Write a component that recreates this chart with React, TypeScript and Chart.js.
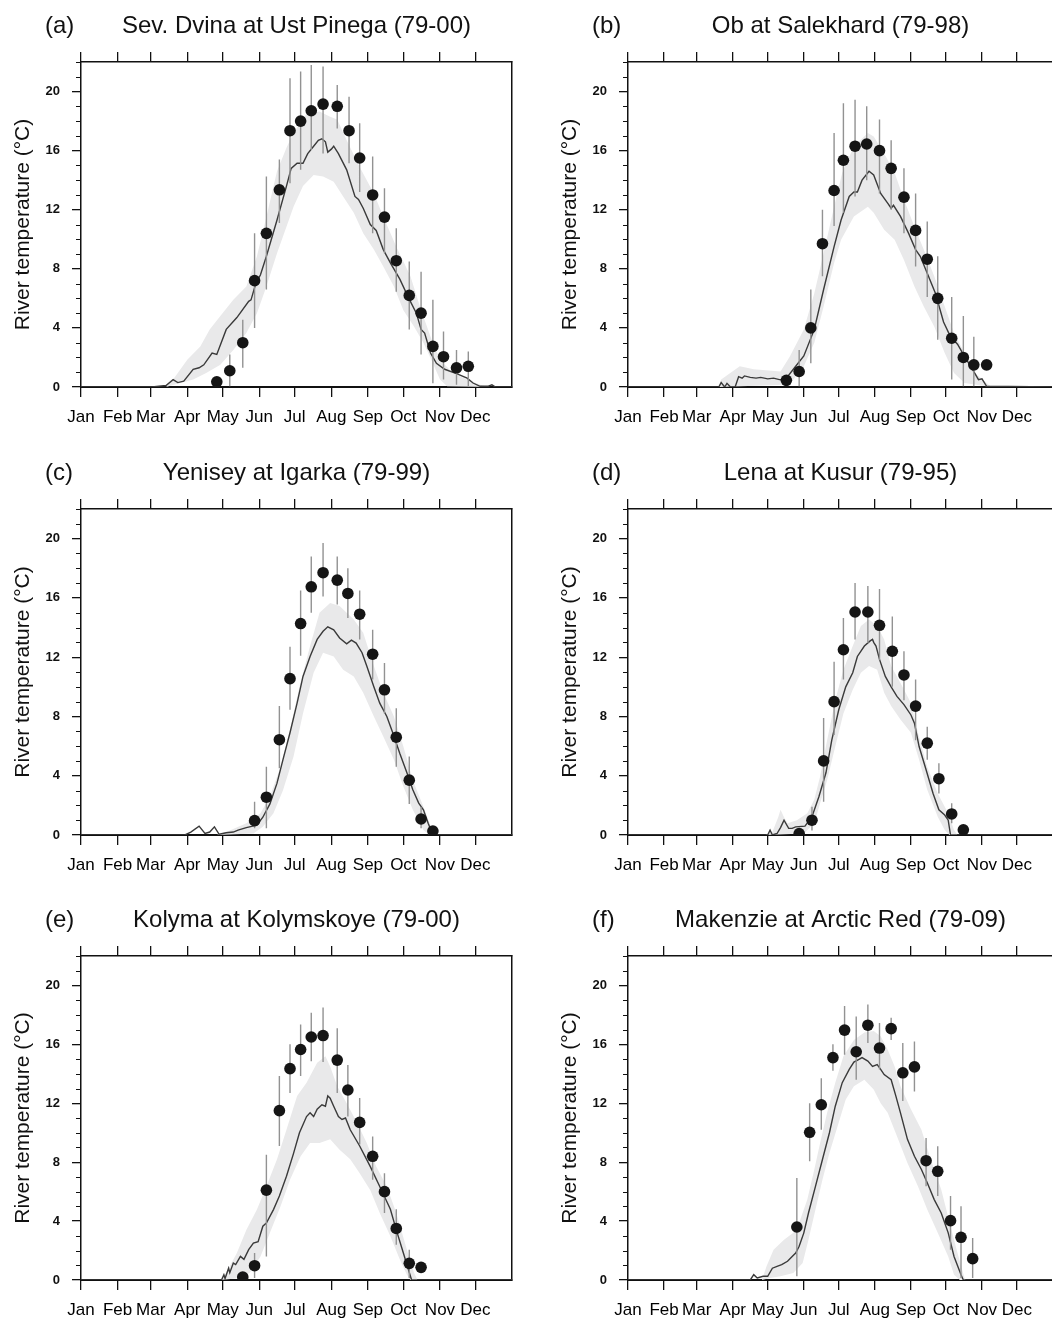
import React, { useEffect, useRef } from "react";
import { Chart, registerables } from "chart.js";

Chart.register(...registerables);

const FONT = '"Liberation Sans", Arial, Helvetica, sans-serif';

// ---------- axis values ----------
const MONTH_LABELS = ["Jan", "Feb", "Mar", "Apr", "May", "Jun", "Jul", "Aug", "Sep", "Oct", "Nov", "Dec"];
const MONTH_STARTS = [0, 31, 59, 90, 120, 151, 181, 212, 243, 273, 304, 334];
const Y_TICKS = [0, 4, 8, 12, 16, 20];
const Y_MINOR = [1, 2, 3, 5, 6, 7, 9, 10, 11, 13, 14, 15, 17, 18, 19, 21, 22];
const Y_TITLE = "River temperature (°C)";

// ---------- (a) Sev. Dvina at Ust Pinega ----------
const A_OBS_DAY = [115, 126, 137, 147, 157, 168, 177, 186, 195, 205, 217, 227, 236, 247, 257, 267, 278, 288, 298, 307, 318, 328];
const A_OBS_MEAN = [0.35, 1.1, 3.0, 7.2, 10.4, 13.35, 17.35, 18.0, 18.7, 19.15, 19.0, 17.35, 15.5, 13.0, 11.5, 8.55, 6.2, 5.0, 2.75, 2.05, 1.3, 1.4];
const A_OBS_LOW = [0.35, 0.05, 1.3, 4.0, 6.6, 11.1, 13.8, 14.7, 16.05, 15.8, 17.5, 15.15, 13.2, 10.4, 9.05, 6.45, 3.9, 2.2, 0.25, 0.5, 0.15, 0.05];
const A_OBS_HIGH = [0.35, 2.2, 4.55, 10.4, 14.25, 15.4, 20.9, 21.35, 21.8, 21.7, 20.45, 19.65, 17.85, 15.6, 13.45, 10.75, 8.5, 7.8, 5.9, 3.75, 2.5, 2.4];
const A_MODEL = [[0, 0], [60, 0], [72, 0.1], [78, 0.5], [82, 0.3], [87, 0.4], [95, 1.2], [100, 1.3], [104, 1.5], [111, 2.3], [115, 2.2], [123, 3.9], [132, 4.7], [142, 5.8], [144, 5.9], [148, 7.0], [152, 7.6], [157, 8.85], [166, 11.3], [174, 13.6], [178, 14.8], [183, 15.15], [188, 15.15], [192, 15.8], [197, 16.3], [201, 16.7], [204, 16.8], [207, 16.6], [209, 15.9], [212, 16.1], [214, 16.3], [218, 15.8], [225, 14.7], [232, 12.9], [235, 12.7], [239, 12.1], [245, 11.0], [250, 10.6], [256, 9.3], [262, 8.4], [270, 7.3], [277, 6.1], [284, 5.0], [288, 3.9], [291, 3.65], [296, 2.3], [301, 1.6], [308, 1.2], [318, 0.9], [327, 0.6], [332, 0.27], [338, 0.05], [345, 0.05], [348, 0.15], [351, 0], [365, 0]];
const A_BAND_UP = [[72, 0], [78, 0.5], [90, 1.85], [101, 2.75], [109, 3.9], [118, 4.8], [129, 5.9], [140, 6.8], [149, 8.85], [157, 11.5], [166, 14.6], [174, 16.2], [180, 17.2], [191, 18.5], [202, 18.65], [211, 18.3], [217, 18.1], [225, 16.7], [236, 14.9], [248, 13.1], [256, 11.55], [267, 9.5], [279, 7.5], [287, 5.45], [296, 3.4], [304, 1.85], [315, 0.95], [327, 0.5], [338, 0.16], [345, 0]];
const A_BAND_LOW = [[72, 0], [84, 0.27], [95, 0.5], [106, 0.95], [118, 1.5], [129, 2.5], [140, 3.65], [149, 5.0], [157, 6.8], [166, 9.05], [174, 10.85], [180, 12.2], [188, 13.6], [197, 14.35], [205, 14.25], [214, 13.9], [222, 12.9], [231, 11.8], [239, 10.4], [248, 9.3], [256, 8.15], [265, 6.8], [273, 5.2], [282, 4.1], [290, 3.0], [298, 1.6], [304, 0.5], [310, 0.05], [345, 0]];

// ---------- (b) Ob at Salekhard ----------
const B_OBS_DAY = [136, 147, 157, 167, 177, 185, 195, 205, 216, 226, 237, 247, 257, 266, 278, 288, 297, 308];
const B_OBS_MEAN = [0.45, 1.05, 4.0, 9.7, 13.3, 15.35, 16.3, 16.45, 16.0, 14.8, 12.85, 10.6, 8.65, 6.0, 3.3, 2.0, 1.5, 1.5];
const B_OBS_LOW = [0.45, 0.05, 1.6, 7.5, 10.9, 11.8, 12.9, 14.0, 13.1, 12.0, 10.4, 8.15, 6.1, 3.2, 0.5, 0.05, 0.05, 1.5];
const B_OBS_HIGH = [0.45, 2.5, 6.6, 12.0, 17.2, 19.2, 19.45, 19.0, 18.1, 16.7, 14.8, 13.1, 11.2, 8.85, 6.1, 4.8, 3.4, 1.5];
const B_MODEL = [[0, 0], [78, 0], [80, 0.3], [83, 0], [85, 0.25], [88, 0], [92, 0], [95, 0.7], [98, 0.6], [100, 0.75], [105, 0.65], [110, 0.6], [114, 0.65], [120, 0.55], [125, 0.6], [130, 0.5], [135, 0.5], [142, 1.2], [151, 2.1], [160, 3.9], [168, 6.6], [177, 9.5], [183, 11.3], [190, 12.9], [194, 13.2], [197, 13.2], [201, 14.0], [207, 14.6], [211, 14.35], [217, 13.1], [223, 12.45], [226, 12.1], [228, 12.3], [234, 11.55], [241, 10.4], [247, 9.3], [251, 8.85], [257, 7.7], [264, 6.35], [271, 4.4], [277, 3.4], [283, 2.9], [289, 2.07], [296, 1.17], [301, 0.5], [304, 0.55], [308, 0.05], [365, 0]];
const B_BAND_UP = [[78, 0], [80, 0.5], [96, 1.4], [108, 1.2], [131, 1.05], [139, 2.07], [151, 3.9], [160, 6.35], [168, 9.05], [177, 12.2], [184, 14.5], [194, 16.3], [206, 17.2], [211, 16.95], [220, 15.8], [229, 14.5], [237, 12.7], [246, 10.85], [254, 9.3], [263, 7.5], [272, 5.45], [280, 3.65], [289, 2.3], [298, 0.95], [308, 0.27], [312, 0]];
const B_BAND_LOW = [[78, 0], [134, 0.15], [142, 0.5], [151, 1.4], [160, 3.0], [168, 5.45], [177, 8.4], [183, 9.97], [194, 11.55], [206, 12.2], [211, 11.8], [220, 10.65], [229, 9.97], [237, 8.6], [246, 6.8], [254, 5.45], [263, 4.1], [272, 2.3], [280, 0.95], [289, 0.27], [312, 0]];

// ---------- (c) Yenisey at Igarka ----------
const C_OBS_DAY = [147, 157, 168, 177, 186, 195, 205, 217, 226, 236, 247, 257, 267, 278, 288, 298];
const C_OBS_MEAN = [0.97, 2.55, 6.43, 10.55, 14.27, 16.75, 17.7, 17.2, 16.3, 14.9, 12.2, 9.8, 6.6, 3.7, 1.08, 0.27];
const C_OBS_LOW = [0.45, 0.45, 4.5, 8.45, 12.1, 15.0, 16.1, 15.55, 14.65, 13.2, 10.5, 8.2, 4.6, 2.1, 0.45, 0.27];
const C_OBS_HIGH = [2.25, 4.6, 8.7, 12.7, 16.5, 18.8, 19.7, 18.8, 18.0, 16.5, 13.85, 11.6, 8.55, 5.3, 1.9, 0.27];
const C_MODEL = [[0, 0], [88, 0], [93, 0.2], [100, 0.6], [105, 0.1], [109, 0.2], [113, 0.55], [117, 0.05], [123, 0.15], [129, 0.2], [133, 0.33], [140, 0.5], [149, 0.66], [154, 1.2], [160, 2.1], [166, 3.5], [171, 5.07], [177, 6.9], [183, 8.9], [188, 10.7], [194, 12.05], [200, 13.2], [205, 13.75], [209, 14.05], [214, 13.85], [219, 13.3], [225, 12.9], [229, 13.15], [233, 12.95], [238, 12.3], [242, 11.4], [248, 10.0], [253, 8.9], [259, 8.0], [264, 6.9], [270, 5.5], [276, 4.2], [281, 3.05], [286, 2.15], [290, 1.7], [294, 0.8], [298, 0], [365, 0]];
const C_BAND_UP = [[115, 0], [126, 0.3], [140, 0.8], [152, 1.47], [160, 2.6], [169, 4.6], [177, 7.1], [185, 10.0], [194, 12.75], [202, 15.0], [211, 15.65], [219, 15.45], [231, 14.55], [239, 13.65], [248, 11.4], [256, 9.6], [265, 8.0], [273, 5.97], [281, 3.7], [290, 1.9], [298, 0.2], [301, 0]];
const C_BAND_LOW = [[115, 0], [146, 0.1], [154, 0.55], [163, 1.47], [171, 3.0], [180, 5.3], [188, 8.2], [197, 10.95], [205, 12.3], [214, 12.05], [222, 11.15], [231, 10.7], [239, 9.6], [248, 8.0], [256, 6.65], [265, 5.07], [273, 3.27], [281, 1.7], [290, 0.33], [295, 0], [301, 0]];

// ---------- (d) Lena at Kusur ----------
const D_OBS_DAY = [147, 158, 168, 177, 185, 195, 206, 216, 227, 237, 247, 257, 267, 278, 288];
const D_OBS_MEAN = [0.1, 1.0, 5.0, 9.0, 12.5, 15.05, 15.05, 14.15, 12.4, 10.8, 8.7, 6.2, 3.8, 1.42, 0.35];
const D_OBS_LOW = [0.0, 0.3, 2.25, 6.75, 10.5, 13.2, 12.95, 11.8, 10.0, 9.1, 6.4, 5.07, 2.8, 0.8, 0.35];
const D_OBS_HIGH = [0.3, 1.9, 7.9, 11.7, 14.65, 17.0, 16.8, 16.6, 14.75, 12.4, 10.5, 7.3, 4.85, 2.15, 0.35];
const D_MODEL = [[0, 0], [120, 0], [122, 0.33], [124, 0], [128, 0.1], [131, 0.5], [134, 1.0], [138, 0.45], [141, 0.45], [144, 0.55], [152, 0.6], [158, 1.24], [164, 2.6], [170, 4.2], [175, 6.4], [181, 8.45], [187, 10.0], [193, 10.95], [197, 12.05], [203, 12.75], [208, 13.1], [210, 13.2], [211, 13.0], [213, 12.75], [216, 11.85], [221, 10.7], [226, 10.0], [231, 9.35], [237, 8.8], [243, 8.1], [246, 7.55], [250, 5.97], [256, 4.4], [262, 2.8], [267, 1.7], [272, 1.35], [275, 1.0], [277, 0], [365, 0]];
const D_BAND_UP = [[118, 0], [124, 0.2], [129, 1.2], [131, 1.7], [134, 1.2], [137, 0.8], [145, 1.0], [154, 1.47], [160, 2.4], [165, 3.95], [171, 6.4], [178, 9.1], [185, 11.15], [193, 12.75], [200, 14.1], [207, 14.55], [214, 14.1], [220, 13.2], [226, 11.4], [234, 10.25], [243, 8.9], [249, 6.9], [257, 4.6], [266, 2.8], [275, 1.47], [280, 0.33], [283, 0]];
const D_BAND_LOW = [[118, 0], [151, 0.1], [160, 0.8], [165, 2.15], [171, 3.7], [178, 5.97], [185, 8.2], [193, 9.8], [200, 10.95], [207, 11.4], [214, 11.15], [220, 9.6], [226, 8.7], [234, 7.8], [243, 6.9], [250, 5.07], [257, 3.05], [266, 1.24], [272, 0.33], [276, 0], [283, 0]];

// ---------- (e) Kolyma at Kolymskoye ----------
const E_OBS_DAY = [137, 147, 157, 168, 177, 186, 195, 205, 217, 226, 236, 247, 257, 267, 278, 288];
const E_OBS_MEAN = [0.2, 0.97, 6.1, 11.5, 14.35, 15.65, 16.5, 16.6, 14.93, 12.9, 10.7, 8.4, 6.0, 3.5, 1.13, 0.86];
const E_OBS_LOW = [0.2, 0.14, 1.6, 9.1, 12.7, 13.85, 14.85, 14.8, 12.7, 11.1, 9.2, 6.8, 4.55, 2.4, 0.14, 0.86];
const E_OBS_HIGH = [0.2, 1.83, 8.5, 13.85, 16.0, 17.35, 18.15, 18.5, 17.1, 14.6, 12.35, 9.75, 7.25, 4.8, 2.06, 0.86];
const E_MODEL = [[0, 0], [119, 0], [121, 0.36], [122, 0.1], [125, 0.8], [126, 0.5], [129, 1.15], [131, 1.05], [135, 1.6], [138, 1.4], [142, 2.06], [146, 2.5], [150, 2.6], [154, 3.65], [157, 3.87], [163, 4.78], [168, 5.7], [174, 7.05], [180, 8.6], [185, 10.0], [191, 11.1], [194, 11.35], [197, 11.1], [200, 11.6], [204, 11.9], [207, 11.8], [209, 12.5], [211, 12.35], [214, 11.8], [218, 11.1], [221, 10.9], [224, 11.0], [228, 10.2], [236, 9.1], [245, 7.7], [253, 6.35], [262, 4.8], [267, 3.4], [273, 1.83], [279, 0.25], [280, 0], [365, 0]];
const E_BAND_UP = [[118, 0], [123, 0.5], [132, 1.83], [140, 3.4], [149, 4.78], [157, 6.35], [166, 8.2], [174, 10.2], [183, 12.5], [191, 13.4], [200, 14.75], [207, 15.2], [211, 14.5], [217, 13.15], [225, 12.0], [234, 10.65], [242, 9.3], [250, 7.7], [259, 6.35], [267, 4.55], [276, 2.06], [282, 0.5], [285, 0]];
const E_BAND_LOW = [[118, 0], [135, 0.14], [143, 0.5], [152, 1.6], [160, 3.2], [169, 5.0], [177, 6.8], [186, 8.4], [194, 9.3], [202, 9.3], [211, 9.55], [219, 8.85], [228, 8.2], [236, 7.25], [245, 6.1], [253, 4.55], [262, 2.97], [270, 1.4], [276, 0.36], [279, 0], [285, 0]];

// ---------- (f) Makenzie at Arctic Red ----------
const F_OBS_DAY = [145, 156, 166, 176, 186, 196, 206, 216, 226, 236, 246, 256, 266, 277, 286, 296];
const F_OBS_MEAN = [3.6, 10.03, 11.9, 15.1, 16.97, 15.5, 17.3, 15.75, 17.07, 14.07, 14.47, 8.1, 7.38, 4.03, 2.9, 1.45];
const F_OBS_LOW = [0.25, 8.06, 10.2, 14.2, 15.3, 13.6, 16.1, 14.3, 16.3, 12.15, 12.8, 6.36, 5.7, 2.06, 0.14, 0.14];
const F_OBS_HIGH = [6.93, 12.0, 13.7, 16.0, 18.6, 17.9, 18.7, 17.45, 17.8, 16.1, 16.2, 9.65, 9.08, 5.7, 5.0, 2.85];
const F_MODEL = [[0, 0], [105, 0], [108, 0.36], [111, 0.14], [116, 0.25], [120, 0.25], [124, 0.8], [128, 0.93], [132, 1.04], [137, 1.27], [141, 1.6], [144, 1.83], [147, 2.29], [151, 3.2], [155, 4.55], [161, 6.36], [167, 8.18], [173, 10.0], [178, 11.8], [184, 13.4], [190, 14.3], [194, 14.8], [198, 14.97], [201, 15.1], [206, 14.86], [210, 14.5], [214, 14.63], [217, 14.3], [220, 13.95], [226, 13.6], [230, 12.5], [234, 11.35], [240, 9.55], [246, 8.4], [252, 7.5], [257, 6.6], [263, 5.46], [269, 4.55], [275, 3.2], [280, 1.6], [286, 0.36], [288, 0], [365, 0]];
const F_BAND_UP = [[115, 0], [119, 0.93], [125, 2.06], [134, 2.74], [142, 3.2], [148, 4.1], [154, 5.46], [160, 7.5], [165, 9.3], [171, 11.35], [178, 13.4], [185, 15.2], [194, 16.3], [203, 16.8], [211, 16.9], [217, 16.55], [223, 15.65], [229, 14.5], [234, 13.15], [243, 11.6], [252, 10.2], [260, 8.18], [269, 6.14], [277, 3.65], [283, 1.83], [289, 0.14], [290, 0]];
const F_BAND_LOW = [[115, 0], [122, 0.14], [131, 0.25], [142, 0.48], [150, 1.15], [155, 2.74], [161, 4.78], [167, 6.8], [173, 8.63], [180, 10.44], [187, 12.25], [194, 13.15], [203, 13.6], [211, 12.93], [217, 12.0], [223, 11.35], [231, 9.76], [240, 7.95], [249, 6.36], [257, 4.78], [266, 3.2], [275, 1.6], [280, 0.36], [285, 0], [290, 0]];

type Panel = {
  tag: string;
  title: string;
  obsDay: number[];
  obsMean: number[];
  obsLow: number[];
  obsHigh: number[];
  model: number[][];
  bandUp: number[][];
  bandLow: number[][];
};

const PANELS: Panel[] = [
  { tag: "(a)", title: "Sev. Dvina at Ust Pinega (79-00)", obsDay: A_OBS_DAY, obsMean: A_OBS_MEAN, obsLow: A_OBS_LOW, obsHigh: A_OBS_HIGH, model: A_MODEL, bandUp: A_BAND_UP, bandLow: A_BAND_LOW },
  { tag: "(b)", title: "Ob at Salekhard (79-98)", obsDay: B_OBS_DAY, obsMean: B_OBS_MEAN, obsLow: B_OBS_LOW, obsHigh: B_OBS_HIGH, model: B_MODEL, bandUp: B_BAND_UP, bandLow: B_BAND_LOW },
  { tag: "(c)", title: "Yenisey at Igarka (79-99)", obsDay: C_OBS_DAY, obsMean: C_OBS_MEAN, obsLow: C_OBS_LOW, obsHigh: C_OBS_HIGH, model: C_MODEL, bandUp: C_BAND_UP, bandLow: C_BAND_LOW },
  { tag: "(d)", title: "Lena at Kusur (79-95)", obsDay: D_OBS_DAY, obsMean: D_OBS_MEAN, obsLow: D_OBS_LOW, obsHigh: D_OBS_HIGH, model: D_MODEL, bandUp: D_BAND_UP, bandLow: D_BAND_LOW },
  { tag: "(e)", title: "Kolyma at Kolymskoye (79-00)", obsDay: E_OBS_DAY, obsMean: E_OBS_MEAN, obsLow: E_OBS_LOW, obsHigh: E_OBS_HIGH, model: E_MODEL, bandUp: E_BAND_UP, bandLow: E_BAND_LOW },
  { tag: "(f)", title: "Makenzie at Arctic Red (79-09)", obsDay: F_OBS_DAY, obsMean: F_OBS_MEAN, obsLow: F_OBS_LOW, obsHigh: F_OBS_HIGH, model: F_MODEL, bandUp: F_BAND_UP, bandLow: F_BAND_LOW },
];

// ---------- layout (canvas placement and plot-area box inside each canvas) ----------
const COLS = [
  { left: 0, width: 520, areaLeft: 81, areaRight: 512 },
  { left: 520, width: 560, areaLeft: 108, areaRight: 533 },
];
const ROWS = [
  { top: 0, height: 440, areaTop: 62, areaBottom: 387 },
  { top: 447, height: 440, areaTop: 62, areaBottom: 388 },
  { top: 894, height: 440, areaTop: 62, areaBottom: 386 },
];

const decorPlugin = {
  id: "decor",
  afterDraw(chart: any, _args: any, opts: any) {
    const { ctx, chartArea } = chart;
    const y = chart.scales.y;
    ctx.save();
    ctx.strokeStyle = "#111";
    ctx.lineWidth = 1;
    Y_MINOR.forEach((v) => {
      const py = Math.round(y.getPixelForValue(v)) + 0.5;
      ctx.beginPath();
      ctx.moveTo(chartArea.left - 5, py);
      ctx.lineTo(chartArea.left, py);
      ctx.stroke();
    });
    ctx.fillStyle = "#111";
    ctx.font = `24px ${FONT}`;
    ctx.textBaseline = "alphabetic";
    ctx.textAlign = "center";
    ctx.fillText(opts.title, (chartArea.left + chartArea.right) / 2, chartArea.top - 29);
    ctx.textAlign = "left";
    ctx.fillText(opts.tag, chartArea.left - 36, chartArea.top - 29);
    ctx.translate(chartArea.left - 52, (chartArea.top + chartArea.bottom) / 2);
    ctx.rotate(-Math.PI / 2);
    ctx.font = `21px ${FONT}`;
    ctx.textAlign = "center";
    ctx.fillText(Y_TITLE, 0, 0);
    ctx.restore();
  },
};

function buildConfig(p: Panel, col: (typeof COLS)[number], row: (typeof ROWS)[number]): any {
  const errData: any[] = [];
  p.obsDay.forEach((d, i) => {
    errData.push({ x: d, y: p.obsLow[i] }, { x: d, y: p.obsHigh[i] }, { x: d, y: null });
  });
  const monthTicks = (s: any) => {
    s.ticks = MONTH_STARTS.map((v) => ({ value: v }));
  };
  const tickGrid = { drawOnChartArea: false, drawTicks: true, tickLength: 10, color: "#111", lineWidth: 1.3 };
  return {
    type: "line",
    data: {
      datasets: [
        { data: p.bandUp.map(([x, y]) => ({ x, y })), borderWidth: 0, pointRadius: 0, fill: false, order: 4, borderColor: "rgba(0,0,0,0)" },
        { data: p.bandLow.map(([x, y]) => ({ x, y })), borderWidth: 0, pointRadius: 0, fill: "-1", backgroundColor: "#e9e9ea", order: 3, borderColor: "rgba(0,0,0,0)" },
        { data: p.model.map(([x, y]) => ({ x, y })), borderColor: "#3a3a3a", borderWidth: 1.4, pointRadius: 0, fill: false, order: 2, tension: 0 },
        { data: errData, borderColor: "#929292", borderWidth: 1.4, pointRadius: 0, fill: false, spanGaps: false, order: 1 },
        { data: p.obsDay.map((d, i) => ({ x: d, y: p.obsMean[i] })), showLine: false, pointRadius: 5.8, pointBackgroundColor: "#151515", pointBorderWidth: 0, backgroundColor: "#151515", borderColor: "#151515", order: 0, clip: 0 },
      ],
    },
    options: {
      responsive: false,
      animation: false,
      devicePixelRatio: 1,
      events: [],
      layout: { padding: { left: 0, top: 0, right: col.width - col.areaRight, bottom: 0 } },
      plugins: {
        legend: { display: false },
        tooltip: { enabled: false },
        decor: { title: p.title, tag: p.tag },
      },
      scales: {
        x: {
          type: "linear",
          position: "bottom",
          min: 0,
          max: 365,
          afterBuildTicks: monthTicks,
          afterFit: (s: any) => {
            s.height = row.height - row.areaBottom;
          },
          ticks: {
            autoSkip: false,
            maxRotation: 0,
            minRotation: 0,
            padding: 10,
            color: "#000",
            font: { family: FONT, size: 17 },
            callback: (_v: any, i: number) => MONTH_LABELS[i],
          },
          grid: tickGrid,
          border: { display: true, color: "#111", width: 2 },
        },
        xTop: {
          type: "linear",
          position: "top",
          min: 0,
          max: 365,
          afterBuildTicks: monthTicks,
          afterFit: (s: any) => {
            s.height = row.areaTop;
          },
          ticks: { display: false },
          grid: tickGrid,
          border: { display: true, color: "#111", width: 1.5 },
        },
        y: {
          type: "linear",
          position: "left",
          min: 0,
          max: 22,
          afterBuildTicks: (s: any) => {
            s.ticks = Y_TICKS.map((v) => ({ value: v }));
          },
          afterFit: (s: any) => {
            s.width = col.areaLeft;
          },
          ticks: { padding: 12, color: "#111", font: { family: FONT, size: 13, weight: "bold" } },
          grid: { drawOnChartArea: false, drawTicks: true, tickLength: 9, color: "#111", lineWidth: 1.3 },
          border: { display: true, color: "#111", width: 1.5 },
        },
        yRight: {
          type: "linear",
          position: "right",
          min: 0,
          max: 22,
          afterFit: (s: any) => {
            s.width = 0;
          },
          ticks: { display: false },
          grid: { display: false, drawTicks: false },
          border: { display: true, color: "#111", width: 1.5 },
        },
      },
    },
    plugins: [decorPlugin],
  };
}

function PanelChart({ panel, col, row }: { panel: Panel; col: (typeof COLS)[number]; row: (typeof ROWS)[number] }) {
  const ref = useRef<HTMLCanvasElement>(null);
  useEffect(() => {
    const chart = new Chart(ref.current as HTMLCanvasElement, buildConfig(panel, col, row));
    return () => chart.destroy();
  }, [panel, col, row]);
  return (
    <canvas
      ref={ref}
      width={col.width}
      height={row.height}
      style={{ position: "absolute", left: col.left, top: row.top, width: col.width, height: row.height }}
    />
  );
}

export default function App() {
  return (
    <div style={{ position: "absolute", left: 0, top: 0, width: 1052, height: 1318, overflow: "hidden", background: "#fff" }}>
      {PANELS.map((p, i) => (
        <PanelChart key={p.tag} panel={p} col={COLS[i % 2]} row={ROWS[Math.floor(i / 2)]} />
      ))}
    </div>
  );
}
